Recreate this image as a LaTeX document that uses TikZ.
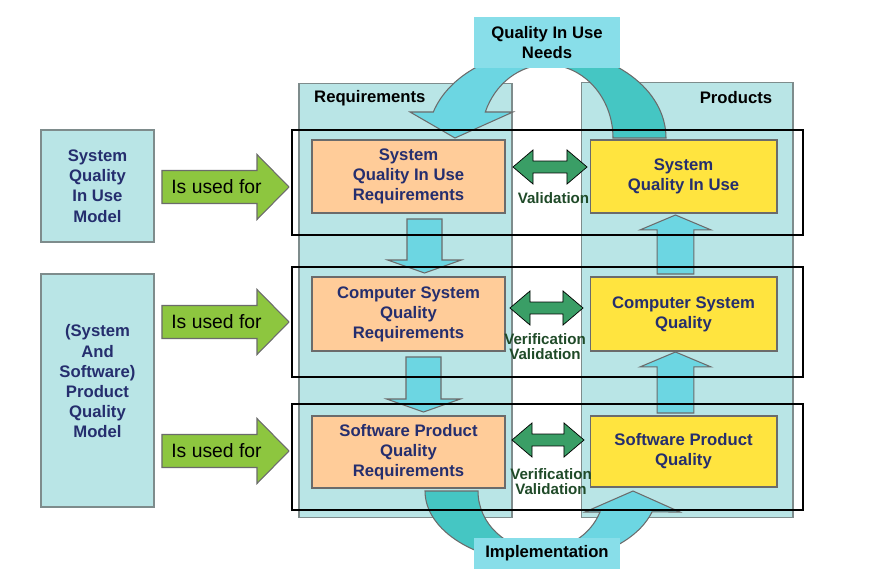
\documentclass[tikz,border=0pt]{standalone}
\usepackage{fontspec}
\setmainfont{Liberation Sans}
\usepackage{tikz}
\usetikzlibrary{arrows,calc}

\definecolor{panelcyan}{HTML}{B9E5E6}
\definecolor{panelgray}{HTML}{7E8C8C}
\definecolor{arrowcyan}{HTML}{6CD6E2}
\definecolor{darkcyan}{HTML}{45C6C3}
\definecolor{tagcyan}{HTML}{88DEE9}
\definecolor{reqorange}{HTML}{FFCC99}
\definecolor{prodyellow}{HTML}{FFE43F}
\definecolor{usegreen}{HTML}{8DC63F}
\definecolor{vvgreen}{HTML}{3A9E66}
\definecolor{vvtext}{HTML}{1F4A28}
\definecolor{textnavy}{HTML}{252E6E}
\definecolor{edgegray}{HTML}{6B6B6B}

% block arrow along a to path: #1 half shaft, #2 half head, #3 head length
\newcommand{\blockto}[3]{($(\tikztostart)!#1!90:(\tikztotarget)$) -- ($(\tikztotarget)!#3!(\tikztostart)!#1!-90:(\tikztostart)$) -- ($(\tikztotarget)!#3!(\tikztostart)!#2!-90:(\tikztostart)$) -- (\tikztotarget) -- ($(\tikztotarget)!#3!(\tikztostart)!#2!90:(\tikztostart)$) -- ($(\tikztotarget)!#3!(\tikztostart)!#1!90:(\tikztostart)$) -- ($(\tikztostart)!#1!-90:(\tikztotarget)$) -- cycle}
% same with a head at both ends
\newcommand{\dblockto}[3]{(\tikztostart) -- ($(\tikztostart)!#3!(\tikztotarget)!#2!90:(\tikztotarget)$) -- ($(\tikztostart)!#3!(\tikztotarget)!#1!90:(\tikztotarget)$) -- ($(\tikztotarget)!#3!(\tikztostart)!#1!-90:(\tikztostart)$) -- ($(\tikztotarget)!#3!(\tikztostart)!#2!-90:(\tikztostart)$) -- (\tikztotarget) -- ($(\tikztotarget)!#3!(\tikztostart)!#2!90:(\tikztostart)$) -- ($(\tikztotarget)!#3!(\tikztostart)!#1!90:(\tikztostart)$) -- ($(\tikztostart)!#3!(\tikztotarget)!#1!-90:(\tikztotarget)$) -- ($(\tikztostart)!#3!(\tikztotarget)!#2!-90:(\tikztotarget)$) -- cycle}

\begin{document}
\begin{tikzpicture}[x = 0.02cm, y = -0.02cm]
% Node styles ---
\tikzstyle{panel} = [rectangle, draw = panelgray, line width = 0.6pt, fill = panelcyan, inner sep = 0pt, outer sep = 0pt] % Requirements / Products
\tikzstyle{model} = [rectangle, draw = panelgray, line width = 0.6pt, fill = panelcyan, minimum width = 2.26cm, inner sep = 0pt, outer sep = 0pt, text = textnavy, font = \bfseries\fontsize{9.5}{11.5}\selectfont, align = center] % Quality models
\tikzstyle{modeltxt} = [text = textnavy, font = \bfseries\fontsize{9.5}{11.5}\selectfont, align = center]
\tikzstyle{req} = [rectangle, draw = edgegray, line width = 0.6pt, fill = reqorange, minimum width = 3.86cm, inner sep = 0pt, outer sep = 0pt, text = textnavy, font = \bfseries\fontsize{9.5}{11.4}\selectfont, align = center] % Requirements
\tikzstyle{prod} = [rectangle, draw = edgegray, line width = 0.6pt, fill = prodyellow, minimum width = 3.74cm, inner sep = 0pt, outer sep = 0pt, text = textnavy, font = \bfseries\fontsize{9.5}{11.4}\selectfont, align = center] % Products
\tikzstyle{row} = [rectangle, draw = black, line width = 0.9pt, minimum width = 10.22cm, inner sep = 0pt] % Levels
\tikzstyle{tag} = [rectangle, fill = tagcyan, minimum width = 2.92cm, inner sep = 0pt, font = \bfseries\fontsize{9.5}{11}\selectfont, align = center]
\tikzstyle{title} = [font = \bfseries\fontsize{9.5}{11.4}\selectfont]
\tikzstyle{usedtxt} = [font = \fontsize{11}{13}\selectfont]
\tikzstyle{vvtxt} = [text = vvtext, font = \bfseries\fontsize{8.6}{8.4}\selectfont, align = center, inner sep = 0pt]
% Edge styles
\tikzstyle{usedfor} = [draw = edgegray, line width = 0.6pt, fill = usegreen, to path = {\blockto{9.4pt}{18.5pt}{18.2pt}}]
\tikzstyle{flowdown} = [draw = edgegray, line width = 0.6pt, fill = arrowcyan, to path = {\blockto{9.96pt}{21pt}{7.4pt}}]
\tikzstyle{flowup} = [draw = edgegray, line width = 0.6pt, fill = arrowcyan, to path = {\blockto{10.5pt}{20.2pt}{8.5pt}}]
\tikzstyle{vv} = [fill = vvgreen, to path = {\dblockto{3.4pt}{9.7pt}{11.4pt}}]
\tikzstyle{bandlight} = [draw = edgegray, line width = 0.6pt, fill = arrowcyan]
\tikzstyle{banddark} = [draw = edgegray, line width = 0.6pt, fill = darkcyan]
% Begin Figure ---
\useasboundingbox (0,0) rectangle (878,580);
% Nodes
\node at (405.5,300.5) [panel, minimum width = 4.26cm, minimum height = 8.7cm] (reqpanel) {};
\node at (687,300) [panel, minimum width = 4.24cm, minimum height = 8.72cm] (prodpanel) {};
\node at (97.5,186) [model, minimum height = 2.24cm] (m1) {System\\Quality\\In Use\\Model};
\node at (97.5,390.5) [model, minimum height = 4.66cm] (m2) {};
\node at ($(m2)+(0,-9)$) [modeltxt] {(System\\And\\Software)\\Product\\Quality\\Model};
% Curved arrows
\draw [bandlight] (547,50) arc [start angle = 270, end angle = 197.2, x radius = 119, y radius = 88] -- (410,112) -- (455,138) -- (513,112) -- (485.3,112) arc [start angle = 200.8, end angle = 270, x radius = 66, y radius = 73.3] -- cycle;
\draw [banddark] (547,50) arc [start angle = 270, end angle = 360, x radius = 119, y radius = 88] -- (613,138) arc [start angle = 0, end angle = -90, x radius = 66, y radius = 73.3] -- cycle;
\draw [banddark] (425,491) arc [start angle = 180, end angle = 90, x radius = 116, y radius = 72] -- (541,550) arc [start angle = 90, end angle = 180, x radius = 63, y radius = 59] -- cycle;
\draw [bandlight] (541,563) arc [start angle = 90, end angle = 16.9, x radius = 116, y radius = 72] -- (680,512) -- (633,491) -- (585,512) -- (600,512) arc [start angle = 20.8, end angle = 90, x radius = 63, y radius = 59] -- cycle;
% Levels
\node at (408.5,176.5) [req, minimum height = 1.46cm] (r1) {System\\Quality In Use\\Requirements};
\node at (408.5,314) [req, minimum height = 1.48cm] (r2) {Computer System\\Quality\\Requirements};
\node at (408.5,452) [req, minimum height = 1.44cm] (r3) {Software Product\\Quality\\Requirements};
\node at (683.5,176.5) [prod, minimum height = 1.46cm] (p1) {System\\Quality In Use};
\node at (683.5,314) [prod, minimum height = 1.48cm] (p2) {Computer System\\Quality};
\node at (683.5,451.5) [prod, minimum height = 1.42cm] (p3) {Software Product\\Quality};
% Arrow ends
\coordinate (g1a) at ($(m1.east)+(8,1)$);
\coordinate (g1b) at ($(g1a)+(127,0)$);
\coordinate (g2a) at ($(m2.east)+(8,-68.5)$);
\coordinate (g2b) at ($(g2a)+(127,0)$);
\coordinate (g3a) at ($(m2.east)+(8,60.5)$);
\coordinate (g3b) at ($(g3a)+(127,0)$);
\coordinate (d1a) at ($(r1.south)+(16,6)$);
\coordinate (d1b) at ($(r2.north)+(16,-4)$);
\coordinate (d2a) at ($(r2.south)+(15,6)$);
\coordinate (d2b) at ($(r3.north)+(15,-4)$);
\coordinate (u1a) at ($(p2.north)+(-8,-3)$);
\coordinate (u1b) at ($(p1.south)+(-8,2)$);
\coordinate (u2a) at ($(p3.north)+(-8,-3)$);
\coordinate (u2b) at ($(p2.south)+(-8,1)$);
\coordinate (v1a) at ($(r1.east)+(8,-9.5)$);
\coordinate (v1b) at ($(p1.west)+(-3,-9.5)$);
\coordinate (v2a) at ($(r2.east)+(5,-6)$);
\coordinate (v2b) at ($(p2.west)+(-7,-6)$);
\coordinate (v3a) at ($(r3.east)+(7,-12)$);
\coordinate (v3b) at ($(p3.west)+(-6,-11.5)$);
% Paths
\draw [usedfor] (g1a) to (g1b);
\draw [usedfor] (g2a) to (g2b);
\draw [usedfor] (g3a) to (g3b);
\draw [flowdown] (d1a) to (d1b);
\draw [flowdown] (d2a) to (d2b);
\draw [flowup] (u1a) to (u1b);
\draw [flowup] (u2a) to (u2b);
\draw [vv] (v1a) to (v1b);
\draw [vv] (v2a) to (v2b);
\draw [vv] (v3a) to (v3b);
% Level frames
\node at (547.5,182.5) [row, minimum height = 2.1cm] (row1) {};
\node at (547.5,322) [row, minimum height = 2.2cm] (row2) {};
\node at (547.5,457) [row, minimum height = 2.12cm] (row3) {};
% Needs and implementation
\node at (547,42.5) [tag, minimum height = 1.02cm] (needs) {Quality In Use\\Needs};
\node at (547,553.5) [tag, minimum height = 0.62cm] (impl) {Implementation};
% Labels
\node at (308,98) [title, anchor = west] {Requirements};
\node at (736,98) [title] {Products};
\node at ($(g1a)+(54.5,0)$) [usedtxt] {Is used for};
\node at ($(g2a)+(54.5,0)$) [usedtxt] {Is used for};
\node at ($(g3a)+(54.5,0)$) [usedtxt] {Is used for};
\node at ($(v1a)!.5!(v1b)+(3.5,31)$) [vvtxt] {Validation};
\node at ($(v2a)!.5!(v2b)+(-1.5,38.5)$) [vvtxt] {Verification\\Validation};
\node at ($(v3a)!.5!(v3b)+(3,41.5)$) [vvtxt] {Verification\\Validation};
\end{tikzpicture}
\end{document}
